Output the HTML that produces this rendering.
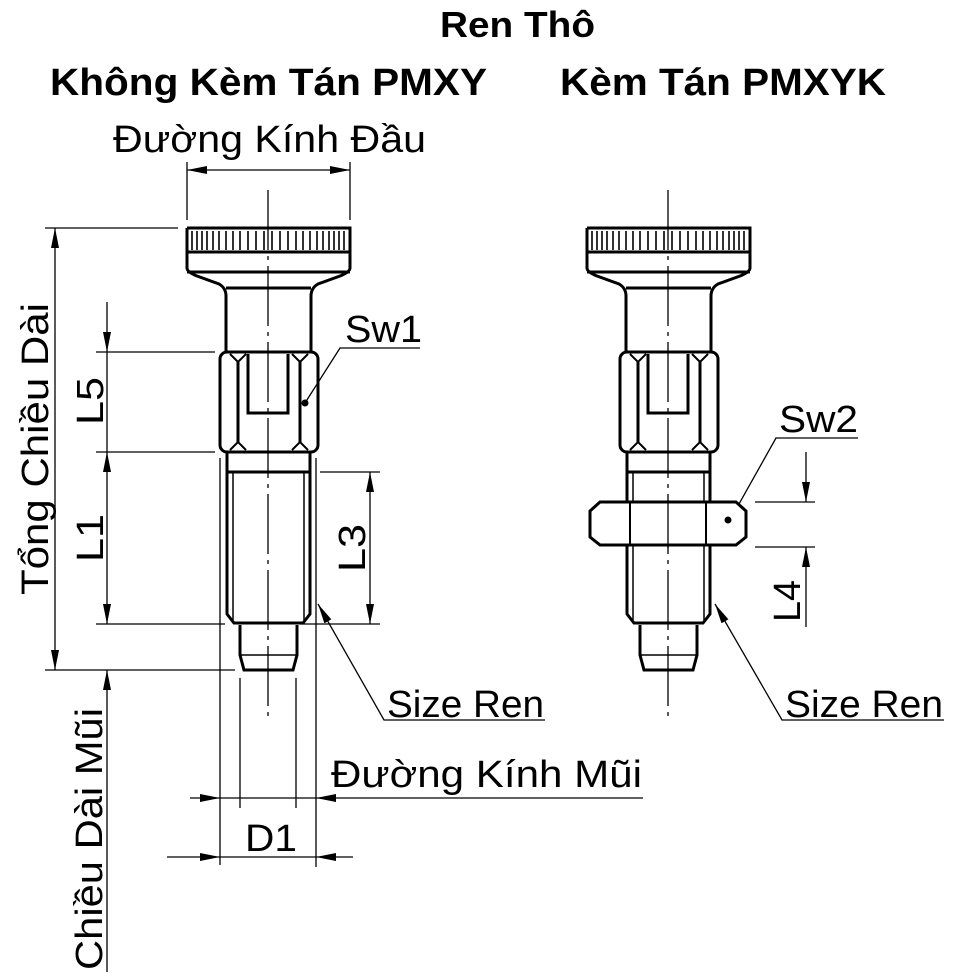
<!DOCTYPE html>
<html><head><meta charset="utf-8"><style>
html,body{margin:0;padding:0;background:#fff;width:954px;height:980px;overflow:hidden}
svg{display:block}
text{font-family:"Liberation Sans",sans-serif;fill:#000}
.b{font-weight:bold}
</style></head><body>
<svg width="954" height="980" viewBox="0 0 954 980" xmlns="http://www.w3.org/2000/svg">
<defs>
<marker id="a" viewBox="0 0 20 8" refX="20" refY="4" markerWidth="20" markerHeight="8" markerUnits="userSpaceOnUse" orient="auto-start-reverse"><path d="M0,0 L20,4 L0,8 z" fill="#000"/></marker>
</defs>
<text class="b" x="440" y="37" font-size="36" textLength="155" lengthAdjust="spacingAndGlyphs">Ren Thô</text>
<text class="b" x="50" y="95" font-size="38" textLength="437" lengthAdjust="spacingAndGlyphs">Không Kèm Tán  PMXY</text>
<text class="b" x="560" y="95" font-size="38" textLength="326" lengthAdjust="spacingAndGlyphs">Kèm Tán  PMXYK</text>
<text x="113" y="152" font-size="38" textLength="313" lengthAdjust="spacingAndGlyphs">Đường Kính Đầu</text>

<g fill="none" stroke="#000" stroke-width="1.3">
<line x1="187" y1="162" x2="187" y2="220"/><line x1="350" y1="162" x2="350" y2="220"/>
<line x1="187" y1="170" x2="350" y2="170" marker-start="url(#a)" marker-end="url(#a)"/>
<line x1="268" y1="190" x2="268" y2="717" stroke-dasharray="60,6,4,6"/>
<line x1="668" y1="190" x2="668" y2="717" stroke-dasharray="60,6,4,6"/>
<line x1="45" y1="228" x2="178" y2="228"/>
<line x1="55" y1="228" x2="55" y2="670" marker-start="url(#a)" marker-end="url(#a)"/>
<line x1="45" y1="670" x2="235" y2="670"/>
<line x1="96" y1="352" x2="215" y2="352"/>
<line x1="96" y1="452" x2="215" y2="452"/>
<line x1="96" y1="624" x2="225" y2="624"/>
<line x1="107" y1="302" x2="107" y2="352" marker-end="url(#a)"/>
<line x1="107" y1="352" x2="107" y2="452"/>
<line x1="107" y1="452" x2="107" y2="624" marker-start="url(#a)" marker-end="url(#a)"/>
<line x1="107" y1="670" x2="107" y2="972" marker-start="url(#a)"/>
<line x1="320" y1="472" x2="380" y2="472"/>
<line x1="300" y1="624" x2="380" y2="624"/>
<line x1="370" y1="472" x2="370" y2="624" marker-start="url(#a)" marker-end="url(#a)"/>
<line x1="220" y1="458" x2="220" y2="865"/>
<line x1="316" y1="458" x2="316" y2="867"/>
<line x1="240" y1="678" x2="240" y2="808"/>
<line x1="296" y1="678" x2="296" y2="808"/>
<line x1="190" y1="798" x2="220" y2="798" marker-end="url(#a)"/>
<line x1="220" y1="798" x2="316" y2="798"/>
<line x1="643" y1="798" x2="316" y2="798" marker-end="url(#a)"/>
<line x1="167" y1="857" x2="220" y2="857" marker-end="url(#a)"/>
<line x1="220" y1="857" x2="316" y2="857"/>
<line x1="353" y1="857" x2="316" y2="857" marker-end="url(#a)"/>
<polyline points="545,720 384,720 318,604" marker-end="url(#a)"/>
<polyline points="944,720 782,720 715,604" marker-end="url(#a)"/>
<polyline points="420,348 340,348 305,403"/>
<polyline points="858,438 776,438 730,520"/>
<line x1="755" y1="502" x2="815" y2="502"/>
<line x1="755" y1="547" x2="815" y2="547"/>
<line x1="806" y1="452" x2="806" y2="502" marker-end="url(#a)"/>
<line x1="806" y1="627" x2="806" y2="547" marker-end="url(#a)"/>
</g>
<circle cx="305" cy="403" r="3.5" fill="#000"/>

<g id="pin" fill="none" stroke="#000" stroke-width="3">
<path d="M187,228 H350 V268 Q350,272 340,276 L318,284 Q311,288 311,296 V352 M187,228 V268 Q187,272 197,276 L219,284 Q226,288 226,296 V352"/>
<line x1="187" y1="252" x2="350" y2="252"/>
<line x1="187" y1="272" x2="350" y2="272"/>
<line x1="226" y1="288" x2="311" y2="288"/>
<path stroke-width="1.6" d="M192,231V250M197,231V250M202,231V250M207,231V250M213,231V250M219,231V250M226,231V250M233,231V250M240,231V250M248,231V250M256,231V250M264,231V250M272,231V250M280,231V250M288,231V250M296,231V250M303,231V250M310,231V250M317,231V250M323,231V250M329,231V250M334,231V250M339,231V250M344,231V250"/>
<rect x="220" y="352" width="98" height="100" rx="7"/>
<path stroke-width="2" d="M230,354 L238,362 L246,354 M292,354 L300,362 L308,354 M230,450 L238,442 L246,450 M292,450 L300,442 L308,450"/>
<path d="M238,362 V442 M300,362 V442"/>
<path d="M248,354 V413 H288 V354"/>
<rect x="227" y="452" width="83" height="20"/>
<path d="M227,472 V614 L234,623 H303 L310,614 V472"/>
<path d="M233,472 V620 M304,472 V620" stroke-width="1.5"/>
<path d="M240,625 V655 L244,670 H293 L297,655 V625"/>
<line x1="240" y1="655" x2="297" y2="655" stroke-width="1.5"/>
</g>
<use href="#pin" x="400"/>
<g fill="#fff" stroke="#000" stroke-width="3">
<polygon points="600,502 736,502 746,511 746,537 736,545 600,545 590,537 590,511"/>
</g>
<g stroke="#000" stroke-width="2"><line x1="630" y1="502" x2="630" y2="545"/><line x1="706" y1="502" x2="706" y2="545"/></g>
<g stroke="#000" stroke-width="1.3"><line x1="668" y1="500" x2="668" y2="548"/></g>
<circle cx="728" cy="520" r="3.5" fill="#000"/>

<text x="345" y="342" font-size="38" textLength="77" lengthAdjust="spacingAndGlyphs">Sw1</text>
<text x="779" y="432" font-size="38" textLength="79" lengthAdjust="spacingAndGlyphs">Sw2</text>
<text x="387" y="717" font-size="38" textLength="157" lengthAdjust="spacingAndGlyphs">Size Ren</text>
<text x="785" y="717" font-size="38" textLength="158" lengthAdjust="spacingAndGlyphs">Size Ren</text>
<text x="331" y="787" font-size="38" textLength="311" lengthAdjust="spacingAndGlyphs">Đường Kính Mũi</text>
<text x="245" y="851" font-size="38" textLength="52" lengthAdjust="spacingAndGlyphs">D1</text>
<text transform="translate(103,425) rotate(-90)" font-size="38" textLength="48" lengthAdjust="spacingAndGlyphs">L5</text>
<text transform="translate(103,562) rotate(-90)" font-size="38" textLength="48" lengthAdjust="spacingAndGlyphs">L1</text>
<text transform="translate(365,572) rotate(-90)" font-size="38" textLength="48" lengthAdjust="spacingAndGlyphs">L3</text>
<text transform="translate(800,622) rotate(-90)" font-size="38" textLength="42" lengthAdjust="spacingAndGlyphs">L4</text>
<text transform="translate(48,595) rotate(-90)" font-size="38" textLength="292" lengthAdjust="spacingAndGlyphs">Tổng Chiều Dài</text>
<text transform="translate(102,970) rotate(-90)" font-size="38" textLength="262" lengthAdjust="spacingAndGlyphs">Chiều Dài Mũi</text>
</svg>
</body></html>
